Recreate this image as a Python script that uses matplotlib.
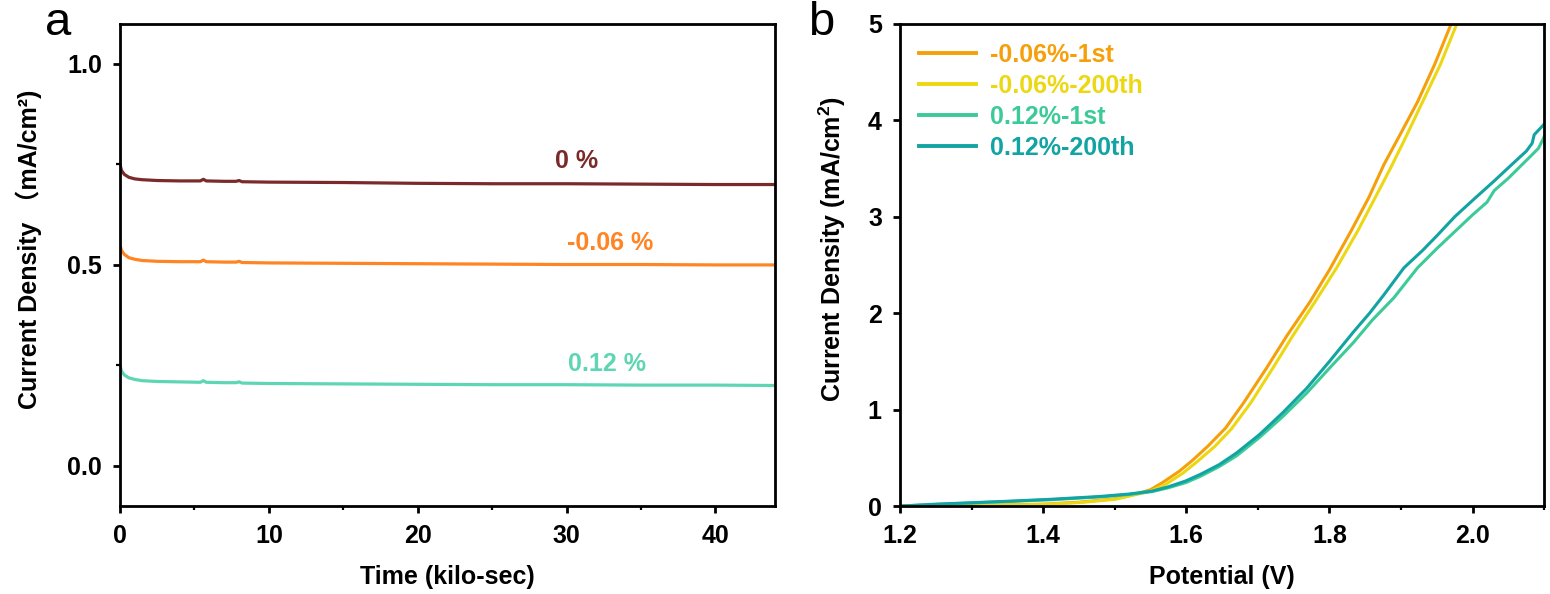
import matplotlib
matplotlib.use('Agg')
import matplotlib.pyplot as plt
from matplotlib.ticker import MultipleLocator

plt.rcParams['font.family'] = ['Liberation Sans', 'Noto Sans CJK SC', 'DejaVu Sans']
plt.rcParams['font.weight'] = 'bold'
plt.rcParams['mathtext.fontset'] = 'custom'
plt.rcParams['mathtext.rm'] = 'Liberation Sans:bold'
plt.rcParams['mathtext.it'] = 'Liberation Sans:bold'
plt.rcParams['mathtext.bf'] = 'Liberation Sans:bold'

# ---- panel a: chronoamperometry (time in kilo-sec) ----
time_0 = [0, 0.1, 0.3, 0.6, 1.0, 1.5, 2.5, 4.0, 5.4, 5.6, 5.8, 7.0, 7.8, 8.0, 8.2,
          10, 15, 20, 25, 30, 35, 40, 44]
j_0 = [0.750, 0.735, 0.725, 0.718, 0.714, 0.712, 0.710, 0.709, 0.709, 0.713, 0.709,
       0.708, 0.708, 0.710, 0.707, 0.706, 0.705, 0.703, 0.702, 0.702, 0.701, 0.700, 0.700]
time_m006 = [0, 0.1, 0.3, 0.6, 1.0, 1.5, 2.5, 4.0, 5.4, 5.6, 5.8, 7.0, 7.8, 8.0, 8.2,
             10, 15, 20, 25, 30, 35, 40, 44]
j_m006 = [0.550, 0.536, 0.526, 0.518, 0.514, 0.511, 0.509, 0.508, 0.508, 0.512, 0.508,
          0.507, 0.507, 0.509, 0.506, 0.505, 0.504, 0.503, 0.502, 0.501, 0.501, 0.500, 0.500]
time_012 = [0, 0.1, 0.3, 0.6, 1.0, 1.5, 2.5, 4.0, 5.4, 5.6, 5.8, 7.0, 7.8, 8.0, 8.2,
            10, 15, 20, 25, 30, 35, 40, 44]
j_012 = [0.250, 0.236, 0.226, 0.219, 0.215, 0.212, 0.210, 0.209, 0.208, 0.212, 0.208,
         0.207, 0.207, 0.209, 0.206, 0.205, 0.204, 0.203, 0.202, 0.202, 0.201, 0.201, 0.200]

# ---- panel b: LSV curves ----
v_m006_1st = [1.20, 1.30, 1.40, 1.45, 1.50, 1.53, 1.55, 1.566, 1.59, 1.608, 1.63, 1.655,
              1.68, 1.712, 1.74, 1.773, 1.80, 1.83, 1.855, 1.876, 1.90, 1.923, 1.947, 1.97]
j_m006_1st = [0.0, 0.005, 0.02, 0.04, 0.075, 0.125, 0.17, 0.24, 0.36, 0.47, 0.62, 0.81,
              1.07, 1.43, 1.76, 2.12, 2.45, 2.85, 3.2, 3.54, 3.87, 4.19, 4.58, 5.0]
v_m006_200 = [1.20, 1.30, 1.40, 1.45, 1.50, 1.53, 1.55, 1.57, 1.595, 1.615, 1.64, 1.663,
              1.69, 1.72, 1.75, 1.78, 1.81, 1.84, 1.864, 1.885, 1.905, 1.930, 1.955, 1.978]
j_m006_200 = [0.0, 0.004, 0.018, 0.036, 0.07, 0.12, 0.155, 0.22, 0.34, 0.46, 0.62, 0.80,
              1.07, 1.42, 1.78, 2.12, 2.47, 2.86, 3.2, 3.5, 3.8, 4.19, 4.58, 5.0]
v_012_1st = [1.20, 1.25, 1.30, 1.35, 1.41, 1.48, 1.52, 1.552, 1.575, 1.60, 1.62, 1.646,
             1.67, 1.702, 1.735, 1.768, 1.80, 1.834, 1.86, 1.890, 1.923, 1.95, 1.970,
             2.00, 2.02, 2.03, 2.05, 2.069, 2.08, 2.092, 2.10]
j_012_1st = [0.0, 0.017, 0.032, 0.047, 0.066, 0.095, 0.12, 0.15, 0.19, 0.245, 0.31, 0.41,
             0.52, 0.71, 0.93, 1.17, 1.43, 1.70, 1.93, 2.16, 2.47, 2.67, 2.81,
             3.02, 3.15, 3.27, 3.40, 3.54, 3.62, 3.71, 3.83]
v_012_200 = [1.20, 1.25, 1.30, 1.35, 1.41, 1.48, 1.52, 1.552, 1.575, 1.599, 1.62, 1.646,
             1.67, 1.702, 1.735, 1.768, 1.80, 1.834, 1.856, 1.876, 1.904, 1.93, 1.951,
             1.975, 2.003, 2.03, 2.056, 2.075, 2.083, 2.086, 2.10]
j_012_200 = [0.0, 0.02, 0.035, 0.05, 0.07, 0.10, 0.125, 0.155, 0.20, 0.26, 0.33, 0.43,
             0.55, 0.74, 0.97, 1.22, 1.5, 1.81, 2.0, 2.19, 2.47, 2.65, 2.81,
             3.0, 3.19, 3.37, 3.55, 3.68, 3.76, 3.85, 3.96]

col_0 = '#7b2a2a'
col_m006 = '#ff8424'
col_012 = '#5ed6b4'
col_b = ['#f5a00a', '#ecd812', '#3ccb98', '#12a3a3']
labels_b = ['-0.06%-1st', '-0.06%-200th', '0.12%-1st', '0.12%-200th']

fig = plt.figure(figsize=(15.5, 5.94), dpi=100)
ax1 = fig.add_axes([0.0774, 0.148, 0.4226, 0.812])
ax2 = fig.add_axes([0.5806, 0.148, 0.4157, 0.812])

ax1.plot(time_0, j_0, color=col_0, lw=2.3)
ax1.plot(time_m006, j_m006, color=col_m006, lw=2.3)
ax1.plot(time_012, j_012, color=col_012, lw=2.3)
ax1.text(30.7, 0.758, '0 %', color=col_0, fontsize=18, fontweight='bold', ha='center', va='center')
ax1.text(32.9, 0.555, '-0.06 %', color=col_m006, fontsize=18, fontweight='bold', ha='center', va='center')
ax1.text(32.7, 0.254, '0.12 %', color=col_012, fontsize=18, fontweight='bold', ha='center', va='center')
ax1.set_xlim(0, 44)
ax1.set_ylim(-0.1, 1.1)
ax1.xaxis.set_major_locator(MultipleLocator(10))
ax1.xaxis.set_minor_locator(MultipleLocator(5))
ax1.yaxis.set_minor_locator(MultipleLocator(0.25))
ax1.set_yticks([0.0, 0.5, 1.0])
ax1.set_yticklabels(['0.0', '0.5', '1.0'])
ax1.set_xlabel('Time (kilo-sec)', fontsize=18, fontweight='bold', labelpad=12)
ax1.set_ylabel('Current Density （mA/cm²)', fontsize=18, fontweight='bold', labelpad=18)
ax1.yaxis.label.set_y(0.533)

ys_b = [(v_m006_1st, j_m006_1st), (v_m006_200, j_m006_200),
        (v_012_1st, j_012_1st), (v_012_200, j_012_200)]
for (vx, jy), c, lab in zip(ys_b, col_b, labels_b):
    ax2.plot(vx, jy, color=c, lw=2.2, label=lab)
ax2.set_xlim(1.2, 2.1)
ax2.set_ylim(0, 5)
ax2.xaxis.set_minor_locator(MultipleLocator(0.1))
ax2.yaxis.set_major_locator(MultipleLocator(1))
ax2.set_xticks([1.2, 1.4, 1.6, 1.8, 2.0])
ax2.set_xticklabels(['1.2', '1.4', '1.6', '1.8', '2.0'])
ax2.set_xlabel('Potential (V)', fontsize=18, fontweight='bold', labelpad=12)
ax2.set_ylabel('Current Density (mA/cm$^2$)', fontsize=18, fontweight='bold', labelpad=14)
ax2.yaxis.label.set_y(0.533)
leg = ax2.legend(loc='upper left', frameon=False, handlelength=2.3,
                 handletextpad=0.55, labelspacing=0.28, borderaxespad=0.35,
                 prop={'weight': 'bold', 'size': 18})
for txt, c in zip(leg.get_texts(), col_b):
    txt.set_color(c)
for h in leg.legend_handles:
    h.set_linewidth(2.8)

for ax in (ax1, ax2):
    for s in ax.spines.values():
        s.set_linewidth(2.0)
    ax.tick_params(which='major', direction='out', length=5, width=2, labelsize=18, pad=8)
    ax.tick_params(which='minor', direction='out', length=3, width=1.6)
    for lab in ax.get_xticklabels() + ax.get_yticklabels():
        lab.set_fontweight('bold')

fig.text(0.0377, 0.962, 'a', fontsize=34, ha='center', va='center', fontweight='normal')
fig.text(0.530, 0.962, 'b', fontsize=34, ha='center', va='center', fontweight='normal')

fig.savefig('out.png', dpi=100)
